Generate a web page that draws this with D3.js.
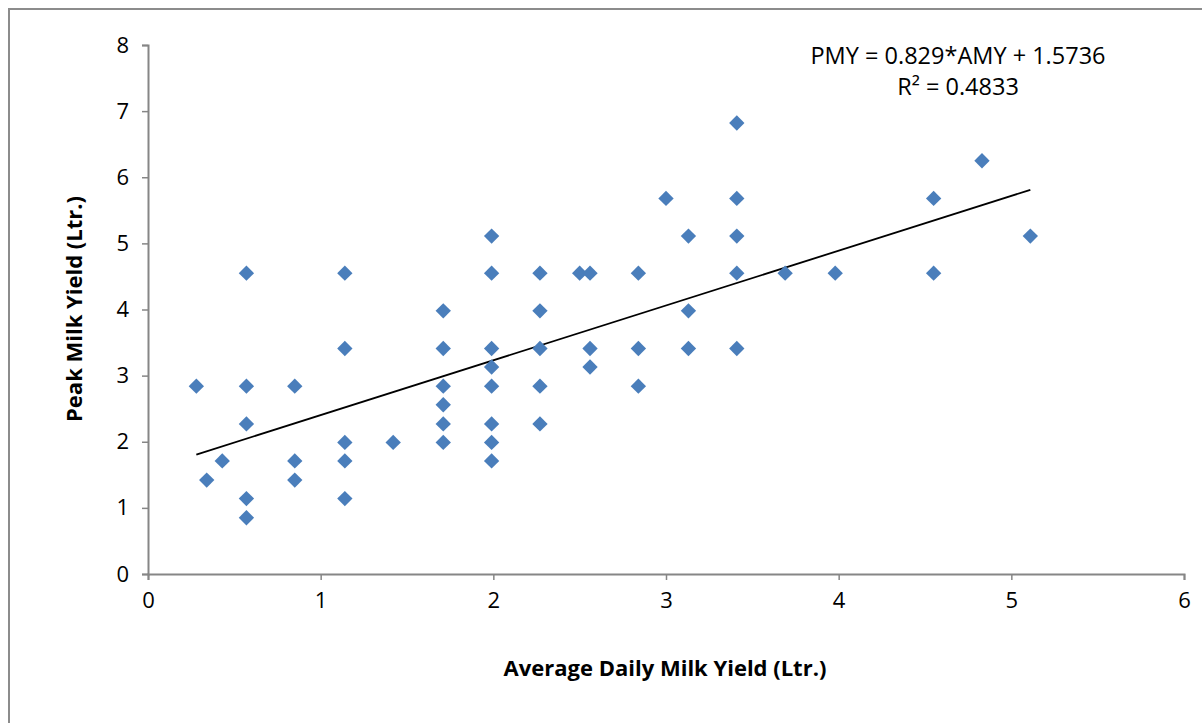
<!DOCTYPE html>
<html>
<head>
<meta charset="utf-8">
<script src="https://cdn.jsdelivr.net/npm/d3@7"></script>
<style>
  body { margin: 0; background: #fff; }
  text { font-family: "Open Sans", Lato, sans-serif; fill: #000; }
</style>
</head>
<body>
<div class="canvas"></div>
<script>
// ------------------------data (litres)
const avgYield = [
  0.28, 0.34, 0.43,
  0.57, 0.57, 0.57, 0.57, 0.57,
  0.85, 0.85, 0.85,
  1.14, 1.14, 1.14, 1.14, 1.14,
  1.42,
  1.71, 1.71, 1.71, 1.71, 1.71, 1.71,
  1.99, 1.99, 1.99, 1.99, 1.99, 1.99, 1.99, 1.99,
  2.27, 2.27, 2.27, 2.27, 2.27,
  2.50,
  2.56, 2.56, 2.56,
  2.84, 2.84, 2.84,
  3.00,
  3.13, 3.13, 3.13,
  3.41, 3.41, 3.41, 3.41, 3.41,
  3.69, 3.98,
  4.55, 4.55,
  4.83, 5.11
];
const peakYield = [
  2.84, 1.42, 1.71,
  4.55, 2.84, 2.27, 1.14, 0.85,
  2.84, 1.71, 1.42,
  4.55, 3.41, 1.99, 1.71, 1.14,
  1.99,
  3.98, 3.41, 2.84, 2.56, 2.27, 1.99,
  5.11, 4.55, 3.41, 3.13, 2.84, 2.27, 1.99, 1.71,
  4.55, 3.98, 3.41, 2.84, 2.27,
  4.55,
  4.55, 3.41, 3.13,
  4.55, 3.41, 2.84,
  5.68,
  5.11, 3.98, 3.41,
  6.82, 5.68, 5.11, 4.55, 3.41,
  4.55, 4.55,
  5.68, 4.55,
  6.25, 5.11
];
const slope = 0.829;
const intercept = 1.5736;
const eqnLabel = 'PMY = 0.829*AMY + 1.5736';
const r2Label = 'R² = 0.4833';
const xTicks = [0, 1, 2, 3, 4, 5, 6];
const yTicks = [0, 1, 2, 3, 4, 5, 6, 7, 8];

const data = avgYield.map((x, i) => ({ x: x, y: peakYield[i] }));

//------------------------svg container
const W = 1202, H = 723;
const svg = d3.select('.canvas').append('svg')
  .attr('width', W)
  .attr('height', H);

// chart frame (only top and left show in the crop)
svg.append('path')
  .attr('d', `M9,${H} L9,9 L${W},9`)
  .attr('fill', 'none')
  .attr('stroke', '#8c8c8c')
  .attr('stroke-width', 2);

const plot = { left: 148, right: 1184, top: 45, bottom: 574 };

const x = d3.scaleLinear().domain([0, 6]).range([plot.left, plot.right]);
const y = d3.scaleLinear().domain([0, 8]).range([plot.bottom, plot.top]);

//------------------------axes
const xAxis = svg.append('g')
  .attr('transform', `translate(0, ${plot.bottom})`)
  .call(d3.axisBottom(x).tickValues(xTicks).tickFormat(d3.format('d')).tickSize(6).tickPadding(12));

const yAxis = svg.append('g')
  .attr('transform', `translate(${plot.left}, 0)`)
  .call(d3.axisLeft(y).tickValues(yTicks).tickFormat(d3.format('d')).tickSize(6).tickPadding(13));

[xAxis, yAxis].forEach(g => {
  g.select('.domain').attr('stroke', '#868686').attr('stroke-width', 2);
  g.selectAll('.tick line').attr('stroke', '#868686').attr('stroke-width', 1.5);
  g.selectAll('.tick text')
    .attr('font-family', '"Open Sans", sans-serif')
    .attr('font-size', 22)
    .attr('fill', '#000');
});

//------------------------axis titles
svg.append('text')
  .attr('x', 665)
  .attr('y', 676)
  .attr('text-anchor', 'middle')
  .attr('font-size', 22)
  .attr('font-weight', 'bold')
  .text('Average Daily Milk Yield (Ltr.)');

svg.append('text')
  .attr('transform', 'translate(82, 309) rotate(-90)')
  .attr('text-anchor', 'middle')
  .attr('font-size', 22)
  .attr('font-weight', 'bold')
  .text('Peak Milk Yield (Ltr.)');

//------------------------trend line over the x range of the data
const xExt = d3.extent(avgYield);
svg.append('line')
  .attr('x1', x(xExt[0])).attr('y1', y(slope * xExt[0] + intercept))
  .attr('x2', x(xExt[1])).attr('y2', y(slope * xExt[1] + intercept))
  .attr('stroke', '#000')
  .attr('stroke-width', 1.8);

//------------------------diamond markers
const diamond = d3.symbol().type(d3.symbolDiamond2).size(150);
svg.append('g').selectAll('path')
  .data(data)
  .enter()
  .append('path')
  .attr('d', diamond)
  .attr('transform', d => `translate(${x(d.x)}, ${y(d.y)})`)
  .attr('fill', '#4a7ebb');

//------------------------equation label
const eq = svg.append('text')
  .attr('text-anchor', 'middle')
  .attr('font-size', 23.5);
eq.append('tspan').attr('x', 958).attr('y', 64).text(eqnLabel);
eq.append('tspan').attr('x', 958).attr('y', 95).text(r2Label);
</script>
</body>
</html>
